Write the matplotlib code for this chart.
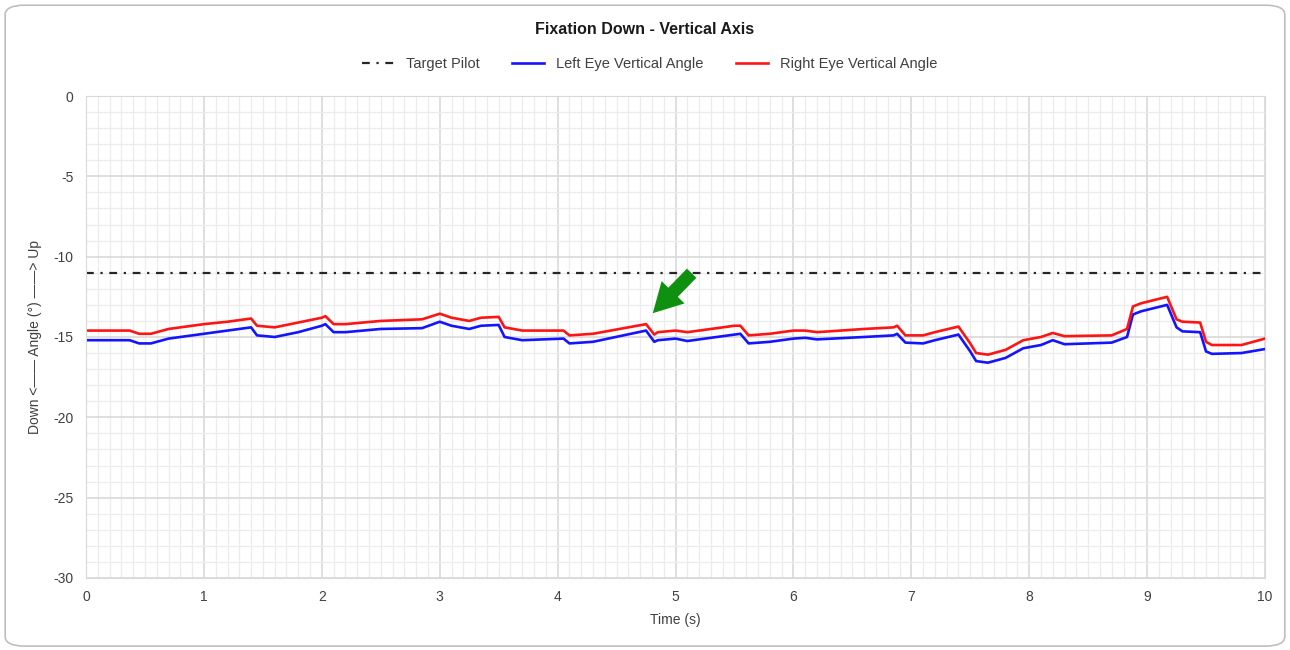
import matplotlib.pyplot as plt
from matplotlib.patches import FancyBboxPatch
from matplotlib.ticker import MultipleLocator

plt.rcParams['font.family'] = ['Liberation Sans', 'DejaVu Sans']
plt.rcParams['axes.unicode_minus'] = False

# Data
time_s = [0.0, 0.37, 0.45, 0.55, 0.7, 1.0, 1.2, 1.4, 1.45, 1.6, 1.8, 2.0, 2.03, 2.1,
          2.2, 2.5, 2.85, 3.0, 3.1, 3.25, 3.35, 3.5, 3.55, 3.7, 4.05, 4.1, 4.3, 4.75,
          4.82, 4.85, 5.0, 5.1, 5.5, 5.55, 5.62, 5.8, 6.0, 6.1, 6.2, 6.6, 6.85, 6.88,
          6.95, 7.1, 7.2, 7.4, 7.5, 7.55, 7.65, 7.8, 7.95, 8.1, 8.2, 8.3, 8.7, 8.83,
          8.88, 8.95, 9.17, 9.25, 9.3, 9.45, 9.5, 9.55, 9.8, 10.0]
right_eye = [-14.6, -14.6, -14.8, -14.8, -14.5, -14.2, -14.05, -13.85, -14.3, -14.4,
             -14.1, -13.8, -13.7, -14.2, -14.2, -14.0, -13.9, -13.55, -13.8, -14.0,
             -13.8, -13.75, -14.4, -14.6, -14.6, -14.9, -14.8, -14.2, -14.85, -14.7,
             -14.6, -14.7, -14.3, -14.3, -14.9, -14.8, -14.6, -14.6, -14.7, -14.5,
             -14.4, -14.3, -14.9, -14.9, -14.7, -14.35, -15.4, -16.0, -16.1, -15.8,
             -15.2, -15.0, -14.75, -14.95, -14.9, -14.5, -13.1, -12.9, -12.5, -13.9,
             -14.05, -14.1, -15.3, -15.5, -15.5, -15.1]
left_eye = [-15.2, -15.2, -15.4, -15.4, -15.1, -14.8, -14.6, -14.4, -14.9, -15.0,
            -14.7, -14.3, -14.2, -14.7, -14.7, -14.5, -14.45, -14.05, -14.3, -14.5,
            -14.3, -14.25, -15.0, -15.2, -15.1, -15.4, -15.3, -14.6, -15.3, -15.2,
            -15.1, -15.25, -14.85, -14.8, -15.4, -15.3, -15.1, -15.05, -15.15, -15.0,
            -14.9, -14.8, -15.35, -15.4, -15.2, -14.85, -15.9, -16.5, -16.6, -16.3,
            -15.7, -15.5, -15.2, -15.45, -15.35, -15.0, -13.6, -13.4, -13.0, -14.4,
            -14.65, -14.7, -15.9, -16.05, -16.0, -15.75]
target_pilot = -11.0

fig = plt.figure(figsize=(12.9, 6.5), dpi=100)
frame = FancyBboxPatch((0.004, 0.006), 0.992, 0.986, boxstyle="round,pad=0,rounding_size=0.015",
                       transform=fig.transFigure, facecolor='white', edgecolor='#bfbfbf',
                       linewidth=1.2, zorder=-5)
fig.patches.append(frame)
ax = fig.add_axes([0.0667, 0.1108, 0.9139, 0.7415])
ax.patch.set_alpha(0)

ax.axhline(target_pilot, color='#262626', linestyle=(0, (3.5, 3, 1, 3)), linewidth=1.6,
           label='Target Pilot')
ax.plot(time_s, left_eye, color='#1414ff', linewidth=1.9, label='Left Eye Vertical Angle')
ax.plot(time_s, right_eye, color='#ff1414', linewidth=1.9, label='Right Eye Vertical Angle')

# green arrow pointing at the jump near 4.8 s
ax.annotate('', xy=(4.807, -13.52), xytext=(5.137, -11.03),
            arrowprops=dict(arrowstyle='simple,head_width=2.3,head_length=2.1,tail_width=0.95',
                            facecolor='#109010', edgecolor='none', shrinkA=0, shrinkB=0,
                            mutation_scale=10))

ax.set_xlim(0, 10)
ax.set_ylim(-30, 0)
ax.xaxis.set_major_locator(MultipleLocator(1))
ax.xaxis.set_minor_locator(MultipleLocator(0.1))
ax.yaxis.set_major_locator(MultipleLocator(5))
ax.yaxis.set_minor_locator(MultipleLocator(1))
ax.grid(which='major', color='#d9d9d9', linewidth=1.2)
ax.grid(which='minor', color='#ececec', linewidth=0.9)
ax.set_axisbelow(True)
for side in ax.spines:
    ax.spines[side].set_color('#d9d9d9')
ax.tick_params(which='both', length=0, labelsize=10, labelcolor='#404040', pad=9)

ax.set_xlabel('Time (s)', fontsize=10, color='#404040', labelpad=6)
ax.set_ylabel('Down <—— Angle (°) ——> Up', fontsize=10, color='#404040', labelpad=8)
fig.suptitle('Fixation Down - Vertical Axis', y=0.966, fontsize=11.5, fontweight='bold', color='#1a1a1a')
ax.legend(loc='lower center', bbox_to_anchor=(0.478, 1.024), ncol=3, frameon=False, fontsize=10.5,
          handlelength=2.2, columnspacing=2.25, handletextpad=0.8, labelcolor='#404040')

fig.savefig('out.png', dpi=100)
